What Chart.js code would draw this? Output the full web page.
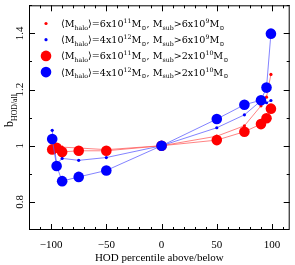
<!DOCTYPE html>
<html>
<head>
<meta charset="utf-8">
<script src="https://cdn.jsdelivr.net/npm/chart.js@4"></script>
<style>
  html, body { margin: 0; padding: 0; background: #fff; }
  canvas { display: block; }
</style>
</head>
<body>
<canvas id="chart" width="295" height="265"></canvas>
<script>
// percentiles (negative = below, positive = above)
const percentiles = [-99, -95, -90, -75, -50, 0, 50, 75, 90, 95, 99];

const redSmall  = [0.990, 0.995, 0.995, 0.992, 0.986, 1.000, 1.034, 1.071, 1.142, 1.173, 1.254];
const blueSmall = [1.055, 0.935, 0.955, 0.948, 0.958, 1.000, 1.064, 1.110, 1.160, 1.153, 1.161];
const redBig    = [0.987, 0.993, 0.978, 0.982, 0.982, 1.000, 1.020, 1.050, 1.077, 1.098, 1.132];
const blueBig   = [1.024, 0.928, 0.874, 0.889, 0.912, 1.000, 1.095, 1.146, 1.162, 1.207, 1.399];

const xTickLabels = [-100, -50, 0, 50, 100];
const yTickLabels = [0.8, 1, 1.2, 1.4];

const legendRows = [
  { mass: "6x10", massExp: "11", sub: "6x10", subExp: "9",  color: "#ff0000", r: 1.6 },
  { mass: "4x10", massExp: "12", sub: "6x10", subExp: "9",  color: "#0000ff", r: 1.6 },
  { mass: "6x10", massExp: "11", sub: "2x10", subExp: "10", color: "#ff0000", r: 5.3 },
  { mass: "4x10", massExp: "12", sub: "2x10", subExp: "10", color: "#0000ff", r: 5.3 },
];

const FONT = "'Liberation Serif', 'DejaVu Serif', serif";
const LEGEND_FONT = "'DejaVu Serif', serif";

function pts(ys) {
  return percentiles.map((x, i) => ({ x, y: ys[i] }));
}

function series(ys, color, lineColor, r, order) {
  return {
    data: pts(ys),
    borderColor: lineColor,
    borderWidth: 1,
    pointRadius: r,
    pointBackgroundColor: color,
    pointBorderColor: color,
    pointBorderWidth: 0,
    pointHoverRadius: r,
    tension: 0,
    order,
  };
}

// draw text pieces with sub/superscripts, returns end x
function richText(ctx, x, y, parts, size, font) {
  parts.forEach(p => {
    let fs = size, dy = 0;
    if (p.sub) { fs = size * 0.65; dy = size * 0.3; }
    if (p.sup) { fs = size * 0.65; dy = -size * 0.42; }
    ctx.font = fs + "px " + (font || FONT);
    ctx.fillText(p.t, x, y + dy);
    x += ctx.measureText(p.t).width;
  });
  return x;
}

const framePlugin = {
  id: "frame",
  afterDatasetsDraw(chart) {
    const { ctx, chartArea: a, scales: { x, y } } = chart;
    ctx.save();
    ctx.strokeStyle = "#000";
    ctx.lineWidth = 1;
    ctx.strokeRect(a.left + 0.5, a.top + 0.5, a.right - a.left - 1, a.bottom - a.top - 1);

    // x ticks (every 10, major every 50)
    ctx.beginPath();
    for (let v = -120; v <= 120; v += 10) {
      const px = Math.round(x.getPixelForValue(v)) + 0.5;
      if (px <= a.left || px >= a.right) continue;
      const len = v % 50 === 0 ? 6 : 3;
      ctx.moveTo(px, a.bottom); ctx.lineTo(px, a.bottom - len);
      ctx.moveTo(px, a.top);    ctx.lineTo(px, a.top + len);
    }
    // y ticks (every 0.1, major every 0.2)
    for (let k = 7; k <= 15; k++) {
      const py = Math.round(y.getPixelForValue(k / 10)) + 0.5;
      if (py <= a.top || py >= a.bottom) continue;
      const len = k % 2 === 0 ? 6 : 3;
      ctx.moveTo(a.left, py);  ctx.lineTo(a.left + len, py);
      ctx.moveTo(a.right, py); ctx.lineTo(a.right - len, py);
    }
    ctx.stroke();

    ctx.fillStyle = "#000";
    ctx.font = "11px " + FONT;
    ctx.textAlign = "center";
    ctx.textBaseline = "alphabetic";
    xTickLabels.forEach(v => {
      const s = v < 0 ? "\u2212" + Math.abs(v) : String(v);
      ctx.fillText(s, x.getPixelForValue(v), 248);
    });
    yTickLabels.forEach(v => {
      ctx.save();
      ctx.translate(23, y.getPixelForValue(v));
      ctx.rotate(-Math.PI / 2);
      ctx.fillText(String(v), 0, 0);
      ctx.restore();
    });

    // axis titles
    ctx.fillText("HOD percentile above/below", (a.left + a.right) / 2, 261);

    ctx.save();
    ctx.translate(13, 127);
    ctx.rotate(-Math.PI / 2);
    ctx.textAlign = "left";
    richText(ctx, 0, 0, [{ t: "b" }, { t: "HOD/all", sub: true }], 12);
    ctx.restore();

    // legend
    ctx.textAlign = "left";
    legendRows.forEach((row, i) => {
      const cy = 23.5 + i * 16.2;
      ctx.fillStyle = row.color;
      ctx.beginPath();
      ctx.arc(46, cy, row.r, 0, Math.PI * 2);
      ctx.fill();
      ctx.fillStyle = "#000";
      richText(ctx, 61, cy + 3.5, [
        { t: "\u27E8M" }, { t: "halo", sub: true }, { t: "\u27E9=" + row.mass },
        { t: row.massExp, sup: true }, { t: "M" }, { t: "\u2299", sub: true },
        { t: ", M" }, { t: "sub", sub: true }, { t: ">" + row.sub },
        { t: row.subExp, sup: true }, { t: "M" }, { t: "\u2299", sub: true },
      ], 9.6, LEGEND_FONT);
    });
    ctx.restore();
  },
};

new Chart(document.getElementById("chart"), {
  type: "line",
  data: {
    datasets: [
      series(blueBig,   "#0000ff", "rgba(90,90,255,0.75)",  5.3, 1),
      series(redBig,    "#ff0000", "rgba(255,90,90,0.75)",  5.3, 2),
      series(blueSmall, "#0000ff", "rgba(90,90,255,0.75)",  1.6, 3),
      series(redSmall,  "#ff0000", "rgba(255,90,90,0.75)",  1.6, 4),
    ],
  },
  options: {
    responsive: false,
    animation: false,
    layout: { padding: { left: 29, right: 5, top: 1, bottom: 35 } },
    plugins: { legend: { display: false }, tooltip: { enabled: false } },
    scales: {
      x: { type: "linear", min: -120, max: 116, display: false },
      y: { type: "linear", min: 0.7, max: 1.5, display: false },
    },
  },
  plugins: [framePlugin],
});
</script>
</body>
</html>
